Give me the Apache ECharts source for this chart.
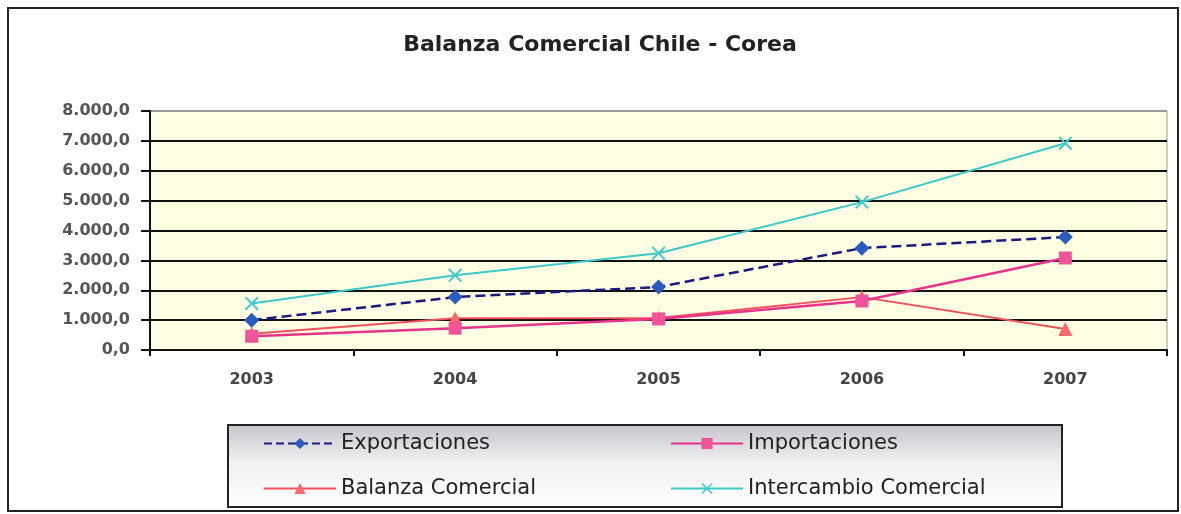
<!DOCTYPE html>
<html><head><meta charset="utf-8">
<script src="https://cdn.jsdelivr.net/npm/echarts@6/dist/echarts.min.js"></script>
<style>html,body{margin:0;padding:0;background:#fff}#c{width:1181px;height:514px}</style>
</head><body><div id="c"></div>
<script>
const categories = ['2003','2004','2005','2006','2007'];
const exportaciones = [1000, 1770, 2110, 3410, 3780];
const importaciones = [460, 730, 1040, 1640, 3080];
const balanza = [540, 1060, 1070, 1770, 700];
const intercambio = [1560, 2500, 3240, 4950, 6920];
const seriesNames = ['Exportaciones','Importaciones','Balanza Comercial','Intercambio Comercial'];
const yTicks = {min: 0, max: 8000, interval: 1000};

function fmt(v){
  const s = Math.round(v).toString().replace(/\B(?=(\d{3})+(?!\d))/g, '.');
  return s + ',0';
}
const xSym = 'path://M0,1L1,0L5,4L9,0L10,1L6,5L10,9L9,10L5,6L1,10L0,9L4,5Z';
const font = '"DejaVu Sans", "Liberation Sans", Arial, sans-serif';
const chart = echarts.init(document.getElementById('c'));
const lineColors = [];
for (let i = 0; i < 8; i++) lineColors.push('#111');
lineColors.push('#999');
const legendText = {fontFamily:font, fontSize:21, color:'#222'};
function leg(name, left, top){
  return {data:[name], left:left, top:top, itemWidth:72, itemHeight:14, itemGap:0, textStyle:legendText};
}
chart.setOption({
  animation: false,
  graphic: [
    {type:'rect', shape:{x:8,y:8,width:1170,height:503}, style:{fill:'#fff', stroke:'#222', lineWidth:2}, z:-10},
    {type:'rect', shape:{x:228,y:425,width:834,height:82},
     style:{fill:new echarts.graphic.LinearGradient(0,0,0,1,[{offset:0,color:'#c4c4cc'},{offset:0.45,color:'#f0f0f2'},{offset:1,color:'#ffffff'}]), stroke:'#222', lineWidth:2}, z:-5}
  ],
  title: {text:'Balanza Comercial Chile - Corea', left:595, top:29, textAlign:'center',
    textStyle:{fontFamily:font, fontSize:22, fontWeight:'bold', color:'#222'}},
  grid: {left:150, right:14, top:111, bottom:164, show:true, backgroundColor:'#fefee2', borderColor:'#999', borderWidth:1},
  legend: [
    leg(seriesNames[0], 258, 428),
    leg(seriesNames[1], 665, 428),
    leg(seriesNames[2], 258, 473),
    leg(seriesNames[3], 665, 473)
  ],
  xAxis: {type:'category', data:categories, boundaryGap:true,
    axisLine:{lineStyle:{color:'#111', width:2}},
    axisTick:{show:true, length:6, lineStyle:{color:'#111', width:2}},
    axisLabel:{fontFamily:font, fontSize:16, fontWeight:'bold', color:'#444', margin:22}},
  yAxis: {type:'value', min:yTicks.min, max:yTicks.max, interval:yTicks.interval,
    axisLine:{show:true, lineStyle:{color:'#111', width:2}},
    axisTick:{show:true, length:9, lineStyle:{color:'#111', width:2}},
    splitLine:{lineStyle:{color:lineColors, width:2}},
    axisLabel:{formatter:fmt, fontFamily:font, fontSize:16, fontWeight:'bold', color:'#555', margin:20}},
  series: [
    {name:seriesNames[0], type:'line', data:exportaciones, symbol:'diamond', symbolSize:15,
     lineStyle:{color:'#1a1a80', width:2.5, type:'dashed'}, itemStyle:{color:'#2a5cc0'}, z:4},
    {name:seriesNames[1], type:'line', data:importaciones, symbol:'rect', symbolSize:13,
     lineStyle:{color:'#e8338a', width:2.5}, itemStyle:{color:'#f0559a'}, z:3},
    {name:seriesNames[2], type:'line', data:balanza, symbol:'triangle', symbolSize:14,
     lineStyle:{color:'#f0505a', width:2}, itemStyle:{color:'#f86a6a'}, z:2},
    {name:seriesNames[3], type:'line', data:intercambio, symbol:xSym, symbolSize:14,
     lineStyle:{color:'#3cc8c8', width:2}, itemStyle:{color:'#40cccc'}, z:5}
  ]
});
</script></body></html>
